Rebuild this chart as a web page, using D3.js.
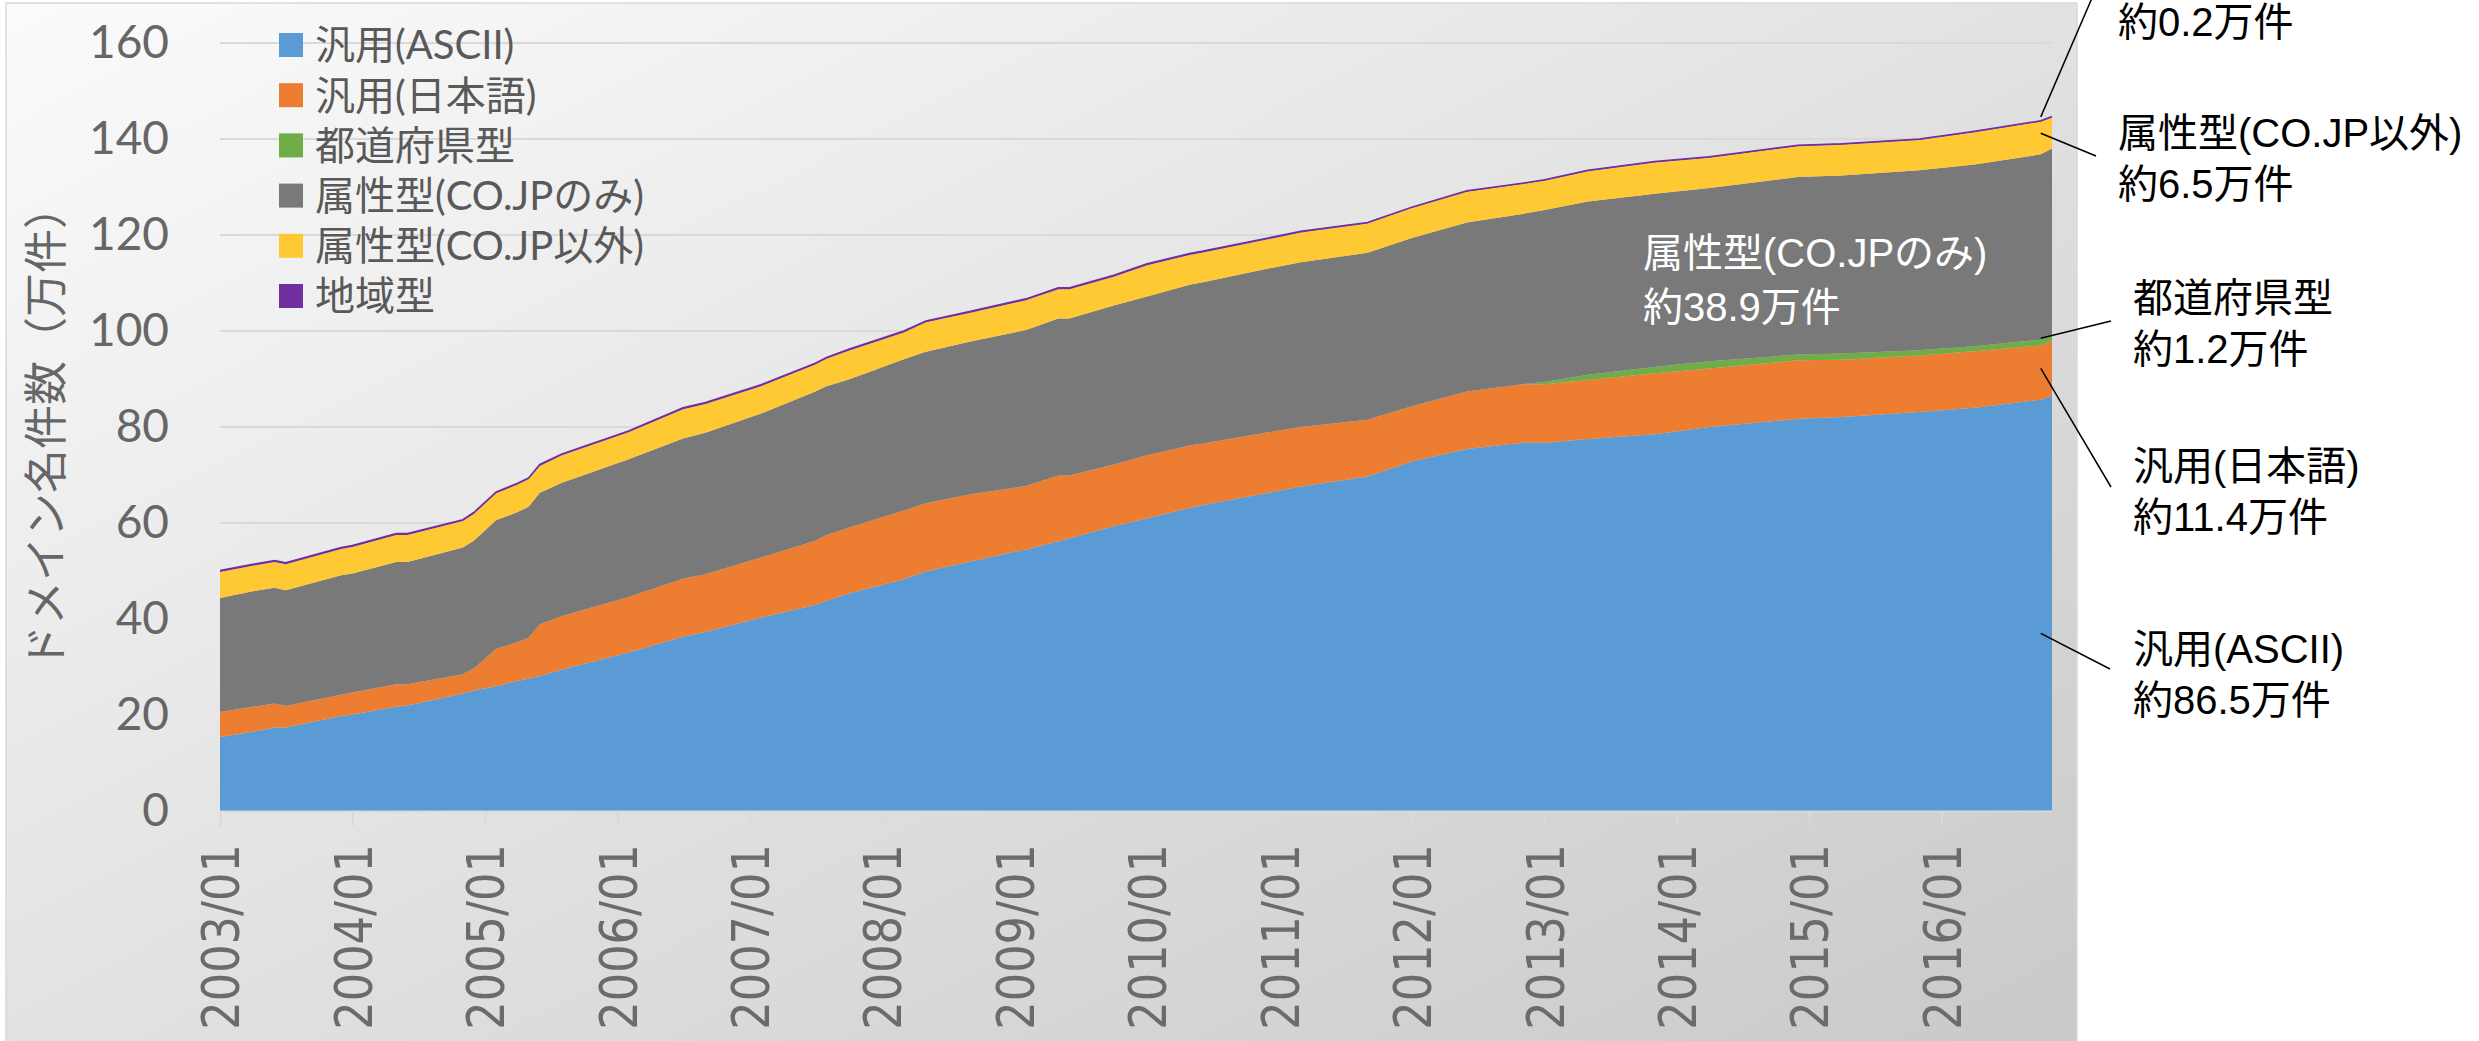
<!DOCTYPE html>
<meta charset="utf-8">
<head>
  <title>ドメイン名件数</title>
  <script src="https://d3js.org/d3.v7.min.js"></script>
  <style>
    body { margin: 0; background: #ffffff; }
    svg { display: block; }
  </style>
</head>
<body>
<div id="my_dataviz"></div>
<script>
// registrations per month (万件)
const months = ["2003/01","2003/04","2003/06","2003/07","2003/12","2004/01","2004/05","2004/06",
  "2004/11","2004/12","2005/02","2005/04","2005/05","2005/06","2005/08","2006/02","2006/07","2006/09",
  "2007/02","2007/07","2007/08","2007/10","2008/03","2008/05","2008/09","2009/02","2009/05","2009/06",
  "2009/10","2010/01","2010/05","2010/06","2010/12","2011/03","2011/09","2012/01","2012/06","2012/11",
  "2013/01","2013/05","2013/11","2014/04","2014/12","2015/04","2015/11","2016/04","2016/10","2016/11"];
const ascii = [15.4,16.5,17.4,17.4,19.8,20.1,21.7,22.0,24.5,25.1,26.0,27.1,27.6,28.1,29.5,33.0,36.3,37.3,
  40.3,42.9,43.8,45.3,48.3,49.9,52.0,54.5,56.2,56.8,59.3,61.0,63.2,63.7,66.3,67.6,69.7,72.8,75.4,76.7,
  76.7,77.5,78.5,80.0,81.7,82.1,83.1,84.0,85.7,86.5];
const jpn = [5.2,5.2,5.0,4.5,4.4,4.6,4.7,4.4,4.0,4.6,7.8,8.1,8.5,10.8,11.1,11.6,12.1,12.0,
  12.5,13.4,13.7,13.7,14.3,14.2,14.0,13.2,13.7,13.1,12.9,13.1,13.0,12.8,12.6,12.4,11.8,11.5,12.0,12.2,
  12.2,12.3,12.7,12.2,12.2,11.9,11.8,11.8,11.3,11.4];
const pref = [0,0,0,0,0,0,0,0,0,0,0,0,0,0,0,0,0,0,
  0,0,0,0,0,0,0,0,0,0,0,0,0,0,0,0,0,0,0,0,
  0.5,1.1,1.3,1.5,1.2,1.3,1.1,1.0,1.2,1.2];
const coOnly = [23.8,24.1,24.1,24.1,24.9,24.8,25.5,25.5,26.4,26.6,26.8,27.1,27.3,27.4,27.8,28.7,29.2,29.5,
  30.0,31.1,31.0,30.9,31.5,31.6,31.8,32.5,32.7,32.7,33.1,33.1,33.5,33.6,34.1,34.3,34.8,35.1,35.2,35.5,
  35.8,36.1,36.1,36.1,37.0,37.1,37.5,37.9,38.6,38.9];
const coOther = [5.4,5.3,5.4,5.4,5.5,5.5,5.6,5.6,5.5,5.6,5.6,5.7,5.7,5.6,5.7,5.6,6.1,6.0,
  5.7,5.6,5.7,6.0,5.6,6.1,6.0,6.2,6.1,6.1,6.0,6.5,6.2,6.2,6.1,6.2,6.1,6.2,6.4,6.2,
  6.1,6.3,6.5,6.3,6.4,6.4,6.3,6.7,6.8,6.5];
const region = [0.3,0.3,0.3,0.3,0.3,0.3,0.3,0.3,0.3,0.3,0.3,0.3,0.3,0.3,0.3,0.3,0.3,0.3,
  0.3,0.3,0.3,0.3,0.3,0.3,0.3,0.3,0.3,0.3,0.3,0.3,0.3,0.3,0.3,0.3,0.2,0.2,0.2,0.2,
  0.2,0.2,0.2,0.2,0.2,0.2,0.2,0.2,0.2,0.2];

const keys = ["ascii", "jpn", "pref", "coOnly", "coOther", "region"];
const seriesNames = ["汎用(ASCII)", "汎用(日本語)", "都道府県型", "属性型(CO.JPのみ)", "属性型(CO.JP以外)", "地域型"];
const seriesColors = ["#5b9bd5", "#ed7d31", "#70ad47", "#797979", "#ffc933", "#7030a0"];
const yTicks = [0, 20, 40, 60, 80, 100, 120, 140, 160];
const xTickLabels = ["2003/01","2004/01","2005/01","2006/01","2007/01","2008/01","2009/01",
  "2010/01","2011/01","2012/01","2013/01","2014/01","2015/01","2016/01"];
const yTitle = "ドメイン名件数（万件）";

// callouts on the right
const noteLabels = ["地域型", "属性型(CO.JP以外)", "都道府県型", "汎用(日本語)", "汎用(ASCII)"];
const noteValues = ["約0.2万件", "約6.5万件", "約1.2万件", "約11.4万件", "約86.5万件"];
const noteAt = [144.6, 141.2, 98.5, 92.2, 37];   // where the leader touches the stack (万件)
const insideNote = ["属性型(CO.JPのみ)", "約38.9万件"];

// layout of the callouts (px); the first label sits above the page edge
const noteX = [2118, 2118, 2133, 2133, 2133];
const noteY = [-29, 133, 298, 466, 649];
const leaderEnd = [[2092, -2], [2096, 156], [2111, 321], [2111, 487], [2110, 669]];

var width = 2479, height = 1041;
var plot = {left: 220, right: 2052, top: 43, bottom: 811};
var jpFont = "'Noto Sans CJK JP', sans-serif";
var legendFont = "Lato, 'Noto Sans CJK JP', sans-serif";
var noteFont = "'Liberation Sans', 'Noto Sans CJK JP', sans-serif";
var parseMonth = d3.timeParse("%Y/%m");

var rows = months.map(function(m, i) {
  return {date: parseMonth(m), ascii: ascii[i], jpn: jpn[i], pref: pref[i],
          coOnly: coOnly[i], coOther: coOther[i], region: region[i]};
});
var stacked = d3.stack().keys(keys)(rows);

var x = d3.scaleTime()
  .domain(d3.extent(rows, function(d) { return d.date; }))
  .range([plot.left, plot.right]);
var y = d3.scaleLinear().domain([0, 160]).range([plot.bottom, plot.top]);

var svg = d3.select("#my_dataviz").append("svg")
  .attr("width", width)
  .attr("height", height);

// chart panel with the grey diagonal shading
var grad = svg.append("defs").append("linearGradient")
  .attr("id", "panelFill")
  .attr("x1", 0).attr("y1", 0).attr("x2", 1).attr("y2", 1);
grad.append("stop").attr("offset", "0%").attr("stop-color", "#fbfbfb");
grad.append("stop").attr("offset", "100%").attr("stop-color", "#c9c9c9");

svg.append("rect")
  .attr("x", 6).attr("y", 3)
  .attr("width", 2071).attr("height", 1045)
  .attr("fill", "url(#panelFill)")
  .attr("stroke", "#d9d9d9")
  .attr("stroke-width", 1.5);

// gridlines
svg.append("g")
  .selectAll("line")
  .data(yTicks.filter(function(v) { return v > 0; }))
  .enter()
  .append("line")
    .attr("x1", plot.left).attr("x2", plot.right)
    .attr("y1", function(d) { return y(d); })
    .attr("y2", function(d) { return y(d); })
    .attr("stroke", "#d9d9d9")
    .attr("stroke-width", 2);

// stacked areas
var area = d3.area()
  .x(function(d) { return x(d.data.date); })
  .y0(function(d) { return y(d[0]); })
  .y1(function(d) { return y(d[1]); });

svg.append("g")
  .selectAll("path")
  .data(stacked)
  .enter()
  .append("path")
    .attr("fill", function(d, i) { return seriesColors[i]; })
    .attr("d", area);

// the 地域型 layer is very thin, give it an edge so it shows as in Excel
svg.append("path")
  .datum(stacked[5])
  .attr("fill", "none")
  .attr("stroke", seriesColors[5])
  .attr("stroke-width", 1.5)
  .attr("d", d3.line()
    .x(function(d) { return x(d.data.date); })
    .y(function(d) { return y(d[1]); }));

// x axis
var xAxis = svg.append("g")
  .attr("transform", "translate(0," + plot.bottom + ")")
  .call(d3.axisBottom(x)
    .tickValues(xTickLabels.map(parseMonth))
    .tickFormat(d3.timeFormat("%Y/%m"))
    .tickSize(15)
    .tickSizeOuter(0));
xAxis.select(".domain").attr("stroke", "#d9d9d9").attr("stroke-width", 2);
xAxis.selectAll(".tick line").attr("stroke", "#d9d9d9").attr("stroke-width", 2);
xAxis.selectAll(".tick text")
  .attr("y", null)
  .attr("dy", "0.36em")
  .attr("text-anchor", "end")
  .attr("transform", "translate(0,33) rotate(-90) scale(0.86,1)")
  .style("font-family", "'DejaVu Sans', sans-serif")
  .style("font-size", "52px")
  .attr("fill", "#6b6b6b");

// y axis
var yAxis = svg.append("g")
  .attr("transform", "translate(" + plot.left + ",0)")
  .call(d3.axisLeft(y).tickValues(yTicks).tickSize(0).tickPadding(51));
yAxis.select(".domain").remove();
yAxis.selectAll(".tick text")
  .style("font-family", "Lato, sans-serif")
  .style("font-size", "46px")
  .attr("fill", "#666666");

svg.append("text")
  .attr("transform", "translate(47,427) rotate(-90)")
  .attr("text-anchor", "middle")
  .attr("dy", "0.35em")
  .style("font-family", jpFont)
  .style("font-size", "44px")
  .attr("fill", "#666666")
  .text(yTitle);

// legend
var legend = svg.append("g")
  .selectAll("g")
  .data(seriesNames)
  .enter()
  .append("g")
    .attr("transform", function(d, i) { return "translate(279," + (45 + i * 50.2) + ")"; });
legend.append("rect")
  .attr("x", 0).attr("y", -12)
  .attr("width", 24).attr("height", 24)
  .attr("fill", function(d, i) { return seriesColors[i]; });
legend.append("text")
  .attr("x", 36)
  .attr("dy", "0.36em")
  .style("font-family", legendFont)
  .style("font-size", "40px")
  .attr("fill", "#595959")
  .text(function(d) { return d; });

// label inside the grey band
svg.append("g")
  .selectAll("text")
  .data(insideNote)
  .enter()
  .append("text")
    .attr("x", 1643)
    .attr("y", function(d, i) { return 253 + i * 54; })
    .attr("dy", "0.36em")
    .style("font-family", noteFont)
    .style("font-size", "40px")
    .attr("fill", "#ffffff")
    .text(function(d) { return d; });

// callouts with leader lines
var leaderX = x(parseMonth("2016/10"));
var notes = svg.append("g")
  .selectAll("g")
  .data(noteLabels)
  .enter()
  .append("g");
notes.append("line")
  .attr("x1", leaderX)
  .attr("y1", function(d, i) { return y(noteAt[i]); })
  .attr("x2", function(d, i) { return leaderEnd[i][0]; })
  .attr("y2", function(d, i) { return leaderEnd[i][1]; })
  .attr("stroke", "#000000")
  .attr("stroke-width", 1.5);
// only the label lines that land on the page are written
notes.filter(function(d, i) { return noteY[i] > 0; })
  .append("text")
  .attr("x", function(d) { return noteX[noteLabels.indexOf(d)]; })
  .attr("y", function(d) { return noteY[noteLabels.indexOf(d)]; })
  .attr("dy", "0.36em")
  .style("font-family", noteFont)
  .style("font-size", "40px")
  .attr("fill", "#000000")
  .text(function(d) { return d; });
notes.append("text")
  .attr("x", function(d, i) { return noteX[i]; })
  .attr("y", function(d, i) { return noteY[i] + 51; })
  .attr("dy", "0.36em")
  .style("font-family", noteFont)
  .style("font-size", "40px")
  .attr("fill", "#000000")
  .text(function(d, i) { return noteValues[i]; });
</script>
</body>
